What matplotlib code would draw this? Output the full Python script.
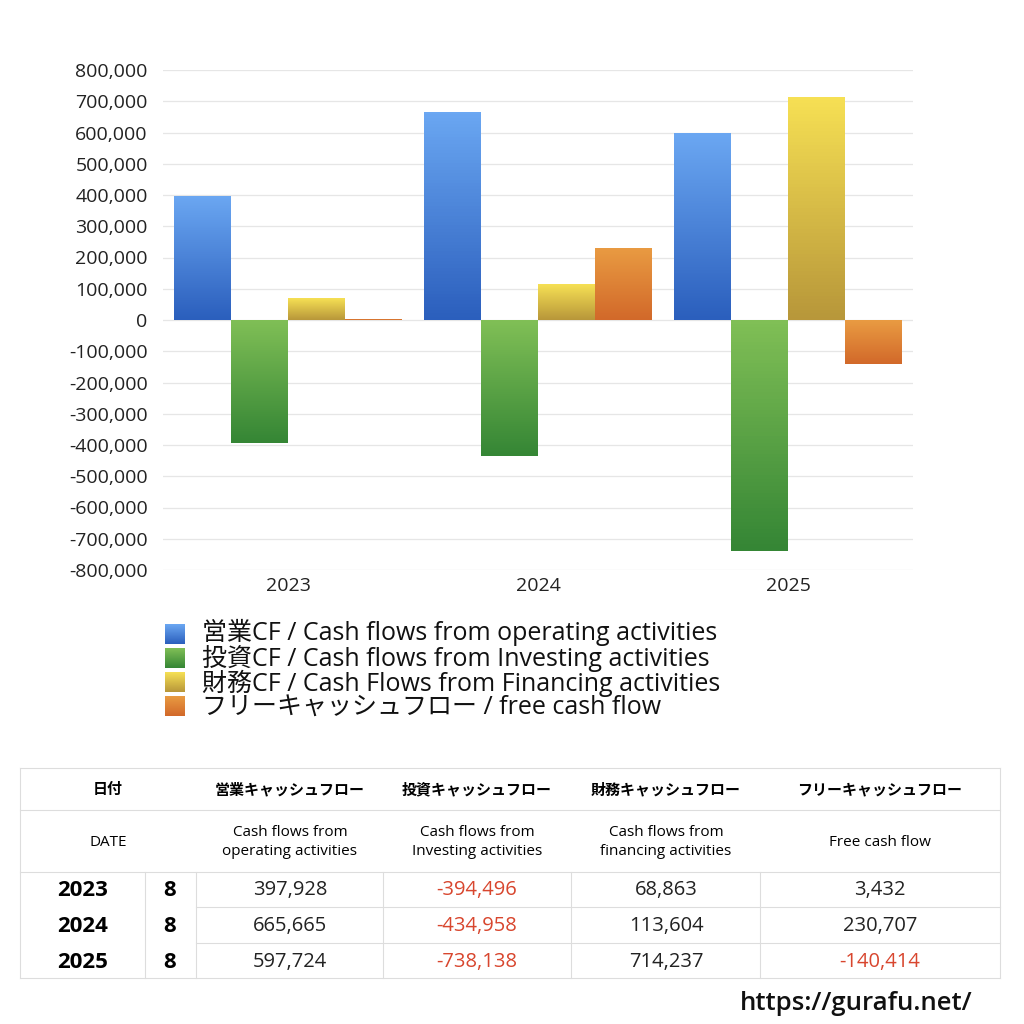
import numpy as np
import matplotlib.pyplot as plt
from matplotlib.colors import LinearSegmentedColormap
from matplotlib.ticker import FuncFormatter

plt.rcParams['font.family'] = ['Open Sans', 'Noto Sans CJK JP', 'DejaVu Sans']

# データ
years = ['2023', '2024', '2025']
months = ['8', '8', '8']
operating = [397928, 665665, 597724]
investing = [-394496, -434958, -738138]
financing = [68863, 113604, 714237]
free_cf = [3432, 230707, -140414]

series_labels = [
    '営業CF / Cash flows from operating activities',
    '投資CF / Cash flows from Investing activities',
    '財務CF / Cash Flows from Financing activities',
    'フリーキャッシュフロー / free cash flow',
]
head_jp = ['日付', '営業キャッシュフロー', '投資キャッシュフロー', '財務キャッシュフロー', 'フリーキャッシュフロー']
head_en = ['DATE', 'Cash flows from\noperating activities', 'Cash flows from\nInvesting activities',
           'Cash flows from\nfinancing activities', 'Free cash flow']

# グラデーション (上:明るい, 下:暗い)
grads = [('#6ba7f2', '#2b5fbd'), ('#80bf56', '#358635'),
         ('#f6e054', '#b8973a'), ('#e99b42', '#d2692a')]
cmaps = [LinearSegmentedColormap.from_list('g%d' % i, [b, t]) for i, (t, b) in enumerate(grads)]
ramp = np.linspace(0, 1, 64).reshape(-1, 1)

fig = plt.figure(figsize=(10.24, 10.24), dpi=100)
ax = fig.add_axes([163 / 1024, 1 - 570 / 1024, 750 / 1024, 500 / 1024])

x = np.arange(len(years))
w = 0.228
all_series = [operating, investing, financing, free_cf]
for i, vals in enumerate(all_series):
    bars = ax.bar(x + (i - 1.5) * w, vals, w, color=grads[i][0], edgecolor='none', zorder=2)
    for b in bars:
        x0 = b.get_x()
        y0 = b.get_y()
        h = b.get_height()
        lo, hi = min(y0, y0 + h), max(y0, y0 + h)
        im = ax.imshow(ramp, cmap=cmaps[i], origin='lower',
                       extent=(x0, x0 + b.get_width(), lo, hi), aspect='auto', zorder=3)
        im.set_clip_path(b)

ax.set_xlim(-0.5, 2.5)
ax.set_ylim(-800000, 800000)
ax.set_yticks(np.arange(-800000, 800001, 100000))
ax.yaxis.set_major_formatter(FuncFormatter(lambda v, p: f'{int(v):,}'))
ax.set_xticks(x)
ax.set_xticklabels(years)
ax.grid(axis='y', color='#e6e6e6', linewidth=0.9, zorder=0)
for s in ax.spines.values():
    s.set_visible(False)
ax.tick_params(length=0, labelsize=14, colors='#222222')
ax.tick_params(axis='y', pad=11)
ax.tick_params(axis='x', pad=5)

# 凡例
for i in range(len(series_labels)):
    yc = 1 - (634 + 24 * i) / 1024
    lax = fig.add_axes([165 / 1024, yc - 10 / 1024, 20 / 1024, 20 / 1024])
    lax.imshow(ramp, cmap=cmaps[i], origin='lower', aspect='auto')
    lax.axis('off')
fig.text(202 / 1024, 1 - 670 / 1024, '\n'.join(series_labels), fontsize=18, va='center',
         ha='left', color='#111111', linespacing=0.92)

# 表
def fx(px):
    return px / 1024

def fy(py):
    return 1 - py / 1024

line_c = '#dddddd'
def hline(y, x0, x1):
    fig.add_artist(plt.Line2D([fx(x0), fx(x1)], [fy(y), fy(y)], color=line_c, lw=0.8))

def vline(xp, y0, y1):
    fig.add_artist(plt.Line2D([fx(xp), fx(xp)], [fy(y0), fy(y1)], color=line_c, lw=0.8))

hline(768, 20, 1000)
hline(810, 20, 1000)
hline(872, 20, 1000)
hline(907, 196, 1000)
hline(943, 196, 1000)
hline(978, 20, 1000)
vline(20, 768, 978)
vline(1000, 768, 978)
for xp in [145, 196, 383, 571, 760]:
    vline(xp, 872, 978)

head_x = [108, 290, 477, 666, 880]
for hx, j, e in zip(head_x, head_jp, head_en):
    fig.text(fx(hx), fy(790), j, fontsize=10.8, fontweight='bold', ha='center', va='center')
    fig.text(fx(hx), fy(842), e, fontsize=11, ha='center', va='center', linespacing=1.35)

row_y = [890, 926, 962]
val_x = [290, 477, 666, 880]
for r in range(len(years)):
    fig.text(fx(83), fy(row_y[r]), years[r], fontsize=16, fontweight='bold', ha='center', va='center')
    fig.text(fx(170), fy(row_y[r]), months[r], fontsize=16, fontweight='bold', ha='center', va='center')
    for c, vals in enumerate(all_series):
        v = vals[r]
        fig.text(fx(val_x[c]), fy(row_y[r]), f'{v:,}', fontsize=14.5, ha='center', va='center',
                 color='#d8462e' if v < 0 else '#222222')

fig.text(fx(972), fy(1003), 'https://gurafu.net/', fontsize=18.5, fontweight='semibold',
         ha='right', va='center', color='#111111')

fig.savefig('out.png', dpi=100, facecolor='white')
